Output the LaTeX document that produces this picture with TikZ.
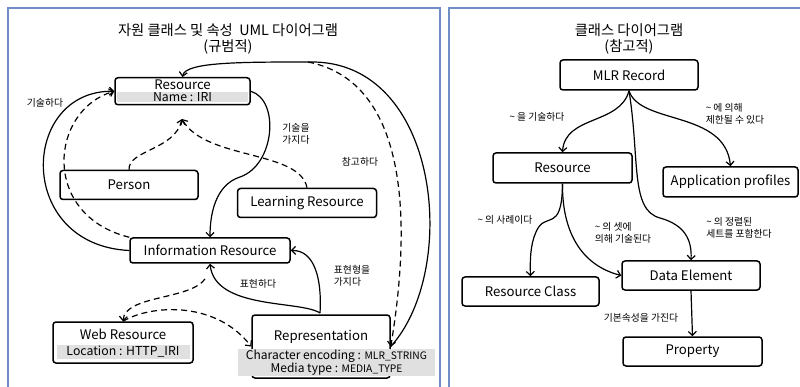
\documentclass[tikz,border=0pt]{standalone}
\usepackage{fontspec}
\setmainfont{Noto Sans CJK KR}
\usetikzlibrary{arrows.meta}
\definecolor{frameblue}{RGB}{112,142,198}
\definecolor{attrgray}{RGB}{224,224,224}
\tikzset{
  cls/.style={draw,line width=1.5pt,rounded corners=3pt,minimum height=29pt,font=\fontsize{13.2}{15}\selectfont},
  rel/.style={line width=1.2pt,-{Straight Barb[length=4pt,width=8pt,line width=1.2pt]}},
  refl/.style={rel,dash pattern=on 6pt off 4pt},
  lbl/.style={font=\fontsize{9.8}{12}\selectfont,align=left},
  attr/.style={fill=attrgray,font=\fontsize{12.3}{13}\selectfont,inner sep=1pt}
}
\begin{document}
\begin{tikzpicture}[x=1pt,y=-1pt]
\useasboundingbox (0,0) rectangle (800,387);
\fill[white] (0,0) rectangle (800,387);
% panels
\draw[frameblue,line width=1.2pt] (8,390) -- (8,8) -- (440,8) -- (440,390);
\draw[frameblue,line width=1.2pt] (449,390) -- (449,8) -- (802,8);
\node[font=\fontsize{14.3}{16}\selectfont,align=center] at (228,39) {자원 클래스 및 속성~~UML 다이어그램\\(규범적)};
\node[font=\fontsize{14.3}{16}\selectfont,align=center] at (629,39) {클래스 다이어그램\\(참고적)};
% left diagram
\fill[attrgray] (117,92) rectangle (248,102);
\node[cls,minimum width=135pt,minimum height=27pt,anchor=north] (res) at (182.5,77) {};
\node[font=\fontsize{13.2}{15}\selectfont] at (182.5,85) {Resource};
\node[font=\fontsize{12.3}{13}\selectfont] at (182.5,97.5) {Name : IRI};
\node[cls,minimum width=138pt] (person) at (129,185) {Person};
\node[cls,minimum width=139pt] (learn) at (307,203) {Learning Resource};
\node[cls,minimum width=160pt,minimum height=25pt] (info) at (210,250.5) {Information Resource};
\node[cls,minimum width=140pt,minimum height=41pt] (web) at (123,342.5) {};
\node[font=\fontsize{13.2}{15}\selectfont] at (123,334) {Web Resource};
\node[attr,minimum width=133pt,minimum height=12pt] at (123,352) {Location : HTTP\_IRI};
\node[cls,minimum width=138pt,minimum height=63pt] (repr) at (321,346.5) {};
\node[font=\fontsize{13.2}{15}\selectfont] at (321,337) {Representation};
\node[attr,align=center,minimum width=197pt,minimum height=27pt,font=\fontsize{12}{13.5}\selectfont] (reprattr) at (336.5,362.5) {Character encoding : {\fontsize{10.3}{11}\selectfont MLR\_STRING}\\Media type : {\fontsize{10.3}{11}\selectfont MEDIA\_TYPE}};
\coordinate (isa) at (182,119);
\coordinate (refstart) at (308,62);
% left connectors
\draw[rel] (info.west) .. controls (15,245) and (20,90) .. (res.west);
\draw[refl] (info.north west) .. controls (40,215) and (50,110) .. (res.west);
\draw[refl] (person.north) .. controls (128,150) and (175,150) .. (isa);
\draw[refl] (learn.north) .. controls (300,150) and (205,160) .. (isa);
\draw[rel] (res.east) .. controls (280,100) and (275,165) .. (240,177) .. controls (215,185) and (210,215) .. (info.south |- info.north);
\draw[rel] (repr.east) .. controls (460,270) and (440,60) .. (310,62) .. controls (240,62) and (185,62) .. (res.north);
\draw[refl] (refstart) .. controls (400,80) and (415,200) .. (repr.east);
\draw[rel] (320,313) .. controls (300,300) and (215,310) .. (info.south);
\draw[rel] (320,313) .. controls (322,280) and (315,250) .. (info.east);
\draw[refl] (205,279) .. controls (190,300) and (125,295) .. (web.north);
\draw[refl] (web.north) .. controls (150,305) and (215,300) .. (repr.west);
\node[lbl] at (45,103) {기술하다};
\node[lbl] at (296,134) {기술을\\가지다};
\node[lbl] at (360,162) {참고하다};
\node[lbl] at (258,284) {표현하다};
\node[lbl] at (352,276) {표현형을\\가지다};
% right diagram
\node[cls,minimum width=138pt,minimum height=30pt] (mlr) at (629,75) {MLR Record};
\node[cls,minimum width=139pt,minimum height=30pt] (rres) at (562.5,168) {Resource};
\node[cls,minimum width=135pt,minimum height=30pt] (app) at (730.5,182) {Application profiles};
\node[cls,minimum width=137pt,minimum height=29pt] (rcls) at (530.5,291.5) {Resource Class};
\node[cls,minimum width=138pt,minimum height=29pt] (delem) at (691,275.5) {Data Element};
\node[cls,minimum width=139pt,minimum height=29pt] (prop) at (692.5,351.5) {Property};
\draw[rel] (mlr.south) .. controls (620,125) and (565,115) .. (rres.north);
\draw[rel] (mlr.south) .. controls (640,125) and (725,110) .. (app.north);
\draw[rel] (mlr.south) .. controls (640,160) and (630,210) .. (660,218) .. controls (685,225) and (692,240) .. (delem.north);
\draw[rel] (rres.south) .. controls (562,235) and (545,210) .. (536,232) .. controls (530,245) and (530,262) .. (rcls.north);
\draw[rel] (rres.south) .. controls (562,230) and (580,265) .. (delem.west);
\draw[rel] (delem.south) -- (prop.north);
\node[lbl] at (537,117) {\textasciitilde\ 을 기술하다};
\node[lbl] at (735,114) {\textasciitilde\ 에 의해\\제한될 수 있다};
\node[lbl] at (505,220) {\textasciitilde\ 의 사례이다};
\node[lbl] at (623,233) {\textasciitilde\ 의 셋에\\의해 기술된다};
\node[lbl] at (739,228) {\textasciitilde\ 의 정렬된\\세트를 포함한다};
\node[lbl] at (641,318) {기본속성을 가진다};
\end{tikzpicture}
\end{document}
